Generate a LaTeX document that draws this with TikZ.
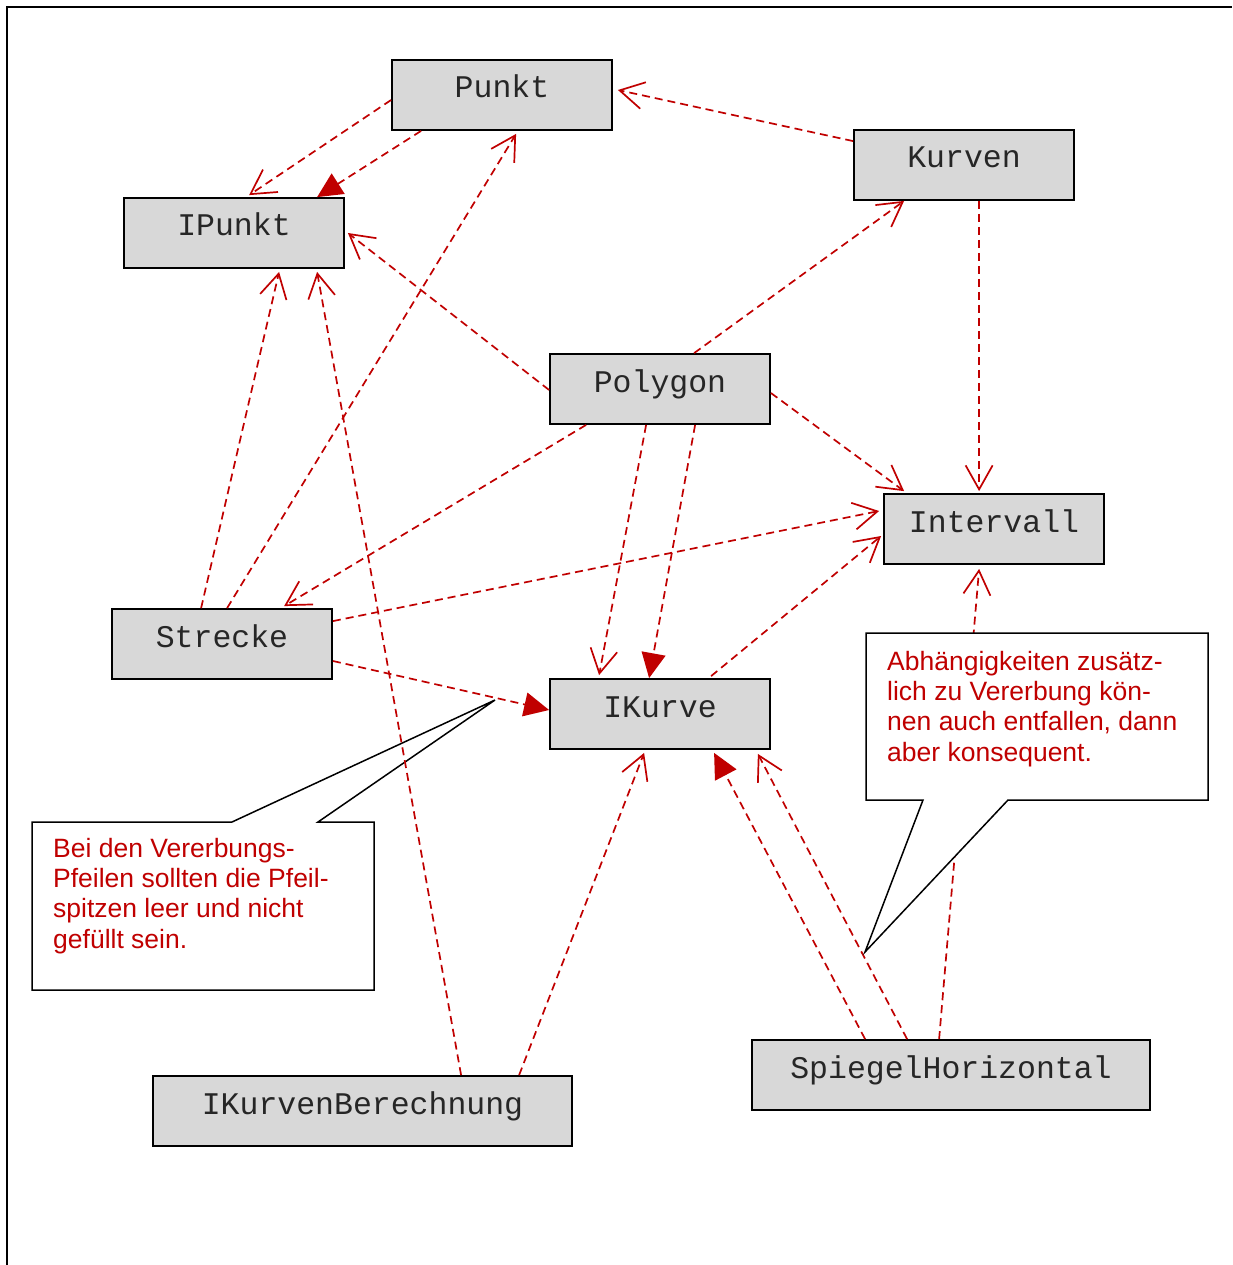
\documentclass[tikz,border=0pt]{standalone}
\usepackage{fontspec}
\setmainfont{Liberation Sans}
\setmonofont{Liberation Mono}
\usetikzlibrary{arrows.meta,calc}
\definecolor{dred}{HTML}{C00000}
\definecolor{boxgray}{HTML}{D8D8D8}
\tikzset{
  cls/.style={draw=black, line width=1.8pt, fill=boxgray, minimum height=70pt,
    minimum width=220pt, inner sep=0pt, text height=21pt, text depth=15pt,
    text=black!85, font=\ttfamily\fontsize{31.5}{36}\selectfont},
  dep/.style={draw=dred, line width=1.7pt, dash pattern=on 8pt off 5pt},
  deparrow/.style={dep, -{Straight Barb[length=24pt,width=27pt,line width=1.7pt]}},
  inharrow/.style={dep, -{Triangle[length=25pt,width=24pt,fill=dred,color=dred]}},
  callout/.style={draw=black, line width=1.5pt, fill=white, line join=miter},
  notetext/.style={text=dred, align=left, anchor=base west, inner sep=0pt,
    font=\fontsize{26.5}{30.3}\selectfont},
}
\begin{document}
\begin{tikzpicture}[x=1pt, y=-1pt]
\useasboundingbox (0,0) rectangle (1232,1265);
% frame
\draw[line width=2.5pt] (7,1265) -- (7,7) -- (1232,7);

% classes
\node[cls] (Punkt) at (502,95) {Punkt};
\node[cls] (Kurven) at (964,165) {Kurven};
\node[cls] (IPunkt) at (234,233) {IPunkt};
\node[cls] (Polygon) at (660,389) {Polygon};
\node[cls] (Intervall) at (994,529) {Intervall};
\node[cls] (Strecke) at (222,644) {Strecke};
\node[cls] (IKurve) at (660,714) {IKurve};
\node[cls, minimum width=419pt] (IKB) at (362.5,1111) {IKurvenBerechnung};
\node[cls, minimum width=398pt] (SH) at (951,1075) {SpiegelHorizontal};

% left callout (drawn below connectors)
\draw[callout] (32,822) -- (232,822) -- (495,700) -- (318,822) -- (374,822)
  -- (374,990) -- (32,990) -- cycle;
% anchor is the baseline of the last line
\node[notetext] (note1) at (53,948) {Bei den Vererbungs-\\Pfeilen sollten die Pfeil-\\spitzen leer und nicht\\gefüllt sein.};

% connectors
\draw[deparrow] ($(Punkt.west)+(0,5)$) -- ($(IPunkt.north west)+(126,-2)$);
\draw[inharrow] ($(Punkt.south west)+(30,0)$) -- ($(IPunkt.north west)+(194,0)$);
\draw[deparrow] ($(Kurven.north west)+(0,12)$) -- ($(Punkt.east)+(5,-5)$);
\draw[deparrow] ($(Polygon.north west)+(145,0)$) -- ($(Kurven.south west)+(51,0)$);
\draw[deparrow] ($(Kurven.south west)+(126,0)$) -- ($(Intervall.north west)+(96,-2)$);
\draw[deparrow] ($(Polygon.west)+(0,1)$) -- ($(IPunkt.east)+(3,0)$);
\draw[deparrow] ($(Strecke.north west)+(116,0)$) -- ($(Punkt.south west)+(125,3)$);
\draw[deparrow] ($(Strecke.north west)+(90,0)$) -- ($(IPunkt.south west)+(156,3)$);
\draw[deparrow] ($(IKB.north west)+(309,0)$) -- ($(IPunkt.south west)+(194,3)$);
\draw[deparrow] ($(Polygon.south west)+(37,0)$) -- ($(Strecke.north west)+(173,-2)$);
\draw[deparrow] ($(Polygon.east)+(0,4)$) -- ($(Intervall.north west)+(21,-2)$);
\draw[deparrow] ($(Strecke.north east)+(0,13)$) -- ($(Intervall.west)+(-4,-18)$);
\draw[deparrow] ($(IKurve.north west)+(162,-2)$) -- ($(Intervall.west)+(-2,7)$);
\draw[deparrow] ($(Polygon.south west)+(97,0)$) -- ($(IKurve.north west)+(50,-3)$);
\draw[inharrow] ($(Polygon.south west)+(146,0)$) -- ($(IKurve.north west)+(100,0)$);
\draw[inharrow] ($(Strecke.east)+(0,17)$) -- ($(IKurve.west)+(0,-4)$);
\draw[deparrow] ($(IKB.north west)+(367,0)$) -- ($(IKurve.south west)+(95,3)$);
\draw[inharrow] ($(SH.north west)+(114,0)$) -- ($(IKurve.south west)+(165,3)$);
\draw[deparrow] ($(SH.north west)+(156,0)$) -- ($(IKurve.south east)+(-13,4)$);
\draw[deparrow] ($(SH.north west)+(188,0)$) -- ($(Intervall.south west)+(96,4)$);

% right callout (drawn over connectors)
\draw[callout] (866,633) -- (1208,633) -- (1208,800) -- (1008,800) -- (865,952)
  -- (923,800) -- (866,800) -- cycle;
\node[notetext] (note2) at (887,761) {Abhängigkeiten zusätz-\\lich zu Vererbung kön-\\nen auch entfallen, dann\\aber konsequent.};
\end{tikzpicture}
\end{document}
